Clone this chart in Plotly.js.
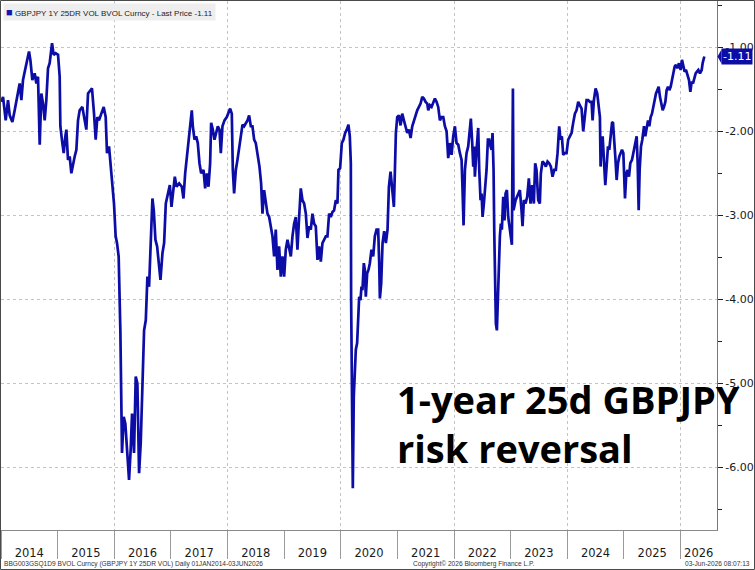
<!DOCTYPE html>
<html>
<head>
<meta charset="utf-8">
<script src="https://cdn.plot.ly/plotly-3.0.1.min.js"></script>
<style>
  html, body { margin: 0; padding: 0; background: #fff; }
  #chart { width: 755px; height: 570px; }
</style>
</head>
<body>
<div id="chart"></div>
<script>
// ---- Data ----
// Time as decimal year, value = GBPJPY 1Y 25-delta risk reversal (vol points)
const t2014_2016 = [2014.006,2014.036,2014.083,2014.124,2014.154,2014.201,2014.242,2014.301,2014.330,2014.360,
2014.389,2014.419,2014.460,2014.495,2014.519,2014.554,2014.595,2014.625,2014.654,2014.684,
2014.713,2014.743,2014.772,2014.801,2014.831,2014.860,2014.902,2014.931,2014.966,2015.008,
2015.037,2015.049,2015.084,2015.108,2015.137,2015.155,2015.184,2015.214,2015.243,2015.273,
2015.302,2015.332,2015.361,2015.390,2015.438,2015.479,2015.508,2015.538,2015.567,2015.608,
2015.644,2015.673,2015.703,2015.732,2015.773,2015.815,2015.850,2015.873,2015.909,2015.938,
2015.968,2015.997,2016.026,2016.050,2016.079,2016.109,2016.138,2016.168,2016.197,2016.227,
2016.262,2016.291,2016.315,2016.350,2016.380,2016.409,2016.439,2016.468,2016.498,2016.527,
2016.557,2016.586,2016.615,2016.639,2016.674,2016.698,2016.727,2016.757,2016.786,2016.816,
2016.851,2016.880,2016.910,2016.951,2016.981,2017.010,2017.040,2017.069,2017.099];
const rr2014_2016 = [-1.65,-1.59,-1.87,-1.63,-1.81,-1.89,-1.75,-1.53,-1.43,-1.63,
-1.39,-1.29,-1.15,-1.05,-1.15,-1.39,-1.31,-1.43,-1.35,-2.16,
-1.55,-1.67,-1.87,-1.63,-1.25,-1.19,-0.95,-1.09,-1.07,-1.09,
-1.35,-1.94,-2.14,-2.26,-2.06,-1.98,-2.34,-2.30,-2.50,-2.38,
-2.30,-2.22,-1.87,-1.75,-1.71,-1.87,-1.98,-1.55,-1.53,-1.49,
-1.79,-2.10,-1.83,-1.87,-1.79,-1.71,-1.83,-2.26,-2.18,-2.42,
-2.66,-2.86,-3.25,-3.33,-3.49,-4.37,-5.83,-5.40,-5.48,-5.79,
-6.15,-5.79,-5.36,-5.83,-4.92,-5.00,-6.07,-5.71,-4.84,-4.37,
-4.25,-3.73,-3.85,-3.37,-2.80,-2.94,-3.29,-3.37,-3.57,-3.77,
-3.45,-3.33,-2.86,-2.74,-2.64,-2.90,-2.70,-2.54,-2.66];

const t2017_2019 = [2017.146,2017.193,2017.222,2017.252,2017.281,2017.311,2017.340,2017.369,2017.387,2017.417,
2017.446,2017.475,2017.505,2017.534,2017.576,2017.605,2017.634,2017.664,2017.693,2017.711,
2017.740,2017.770,2017.799,2017.829,2017.858,2017.882,2017.911,2017.947,2017.988,2018.017,
2018.047,2018.076,2018.094,2018.117,2018.147,2018.176,2018.206,2018.235,2018.265,2018.294,
2018.324,2018.353,2018.382,2018.412,2018.441,2018.471,2018.500,2018.536,2018.565,2018.594,
2018.618,2018.647,2018.677,2018.706,2018.736,2018.765,2018.795,2018.824,2018.853,2018.883,
2018.912,2018.942,2018.971,2019.001,2019.030,2019.060,2019.089,2019.119,2019.148,2019.177,
2019.207,2019.236,2019.266,2019.295,2019.325,2019.354,2019.384,2019.413,2019.443,2019.472,
2019.501,2019.531,2019.560,2019.590,2019.619,2019.649,2019.678,2019.708,2019.737,2019.766,
2019.796,2019.825,2019.855,2019.884,2019.914,2019.943,2019.961,2019.990,2020.020,2020.049,
2020.079,2020.108,2020.137,2020.161,2020.179];
const rr2017_2019 = [-2.62,-2.66,-2.80,-2.50,-2.30,-2.10,-1.98,-1.75,-1.94,-2.10,
-2.06,-2.14,-2.38,-2.50,-2.46,-2.68,-2.50,-2.66,-2.38,-1.90,
-1.98,-2.10,-2.02,-1.94,-1.98,-2.26,-1.94,-1.87,-1.83,-1.77,
-1.73,-1.79,-2.46,-2.74,-2.46,-2.34,-2.18,-2.06,-1.92,-1.94,
-1.90,-1.87,-1.81,-1.94,-1.94,-2.10,-2.14,-2.30,-2.42,-2.62,
-2.98,-2.70,-2.86,-2.98,-3.02,-3.13,-3.25,-3.49,-3.17,-3.65,
-3.37,-3.73,-3.49,-3.73,-3.41,-3.29,-3.41,-3.49,-3.25,-3.10,
-3.02,-3.41,-3.02,-2.68,-2.82,-2.86,-2.98,-3.27,-3.13,-3.17,
-2.98,-3.10,-3.13,-3.53,-3.37,-3.55,-3.33,-3.29,-3.25,-3.25,
-2.98,-3.02,-2.96,-2.94,-2.82,-2.86,-2.46,-2.44,-2.14,-2.10,
-2.02,-1.98,-1.92,-2.06,-2.38];

const t2020_2022 = [2020.184,2020.202,2020.214,2020.231,2020.249,2020.267,2020.290,2020.308,2020.326,2020.349,
2020.367,2020.384,2020.408,2020.426,2020.443,2020.467,2020.490,2020.514,2020.543,2020.573,
2020.602,2020.632,2020.661,2020.679,2020.691,2020.714,2020.738,2020.767,2020.797,2020.826,
2020.850,2020.879,2020.909,2020.938,2020.956,2020.973,2020.997,2021.026,2021.056,2021.085,
2021.115,2021.144,2021.174,2021.203,2021.233,2021.262,2021.291,2021.321,2021.350,2021.380,
2021.409,2021.439,2021.468,2021.498,2021.527,2021.545,2021.574,2021.604,2021.633,2021.662,
2021.692,2021.721,2021.751,2021.780,2021.810,2021.839,2021.869,2021.886,2021.898,2021.927,
2021.957,2021.986,2022.016,2022.045,2022.075,2022.104,2022.134,2022.151,2022.169,2022.193,
2022.222,2022.251,2022.281,2022.298,2022.322,2022.340,2022.357,2022.369,2022.399,2022.428,
2022.446,2022.469,2022.487,2022.505,2022.528,2022.552,2022.575,2022.599,2022.622,2022.646,
2022.664,2022.681,2022.699,2022.711,2022.728,2022.740,2022.758,2022.775,2022.793,2022.811,
2022.828,2022.846,2022.870,2022.893,2022.911,2022.935,2022.958,2022.982,2023.005,2023.023,
2023.041,2023.052,2023.088,2023.117,2023.164];
const rr2020_2022 = [-3.97,-5.36,-6.25,-5.16,-4.84,-4.60,-4.52,-4.17,-3.97,-4.01,
-3.85,-3.89,-3.57,-3.65,-3.97,-3.69,-3.65,-3.57,-3.41,-3.49,
-3.25,-3.17,-3.17,-3.57,-3.99,-3.81,-3.33,-3.19,-3.33,-3.17,
-2.66,-2.48,-2.74,-2.90,-2.46,-2.02,-1.83,-1.81,-1.93,-1.79,
-1.87,-1.94,-2.02,-1.98,-2.08,-1.94,-1.87,-1.81,-1.75,-1.71,
-1.67,-1.59,-1.61,-1.65,-1.67,-1.75,-1.69,-1.71,-1.65,-1.61,
-1.65,-1.71,-1.87,-1.83,-1.83,-1.94,-2.00,-2.14,-2.32,-2.14,
-2.28,-2.06,-1.94,-2.14,-2.16,-2.26,-2.34,-2.70,-3.12,-2.46,
-2.26,-2.18,-1.94,-1.85,-2.14,-2.42,-2.18,-2.54,-2.22,-1.96,
-2.46,-2.82,-2.74,-3.02,-2.86,-2.70,-2.46,-2.10,-2.10,-2.18,
-2.22,-2.02,-2.46,-3.17,-4.05,-4.29,-4.37,-3.97,-3.57,-3.25,
-3.10,-3.17,-2.78,-3.06,-2.74,-2.70,-3.02,-3.17,-3.25,-3.35,
-1.49,-2.94,-2.82,-2.78,-2.70];

const t2023_2026 = [2023.193,2023.211,2023.235,2023.264,2023.294,2023.323,2023.352,2023.382,2023.411,2023.435,
2023.458,2023.488,2023.517,2023.535,2023.564,2023.594,2023.623,2023.653,2023.682,2023.712,
2023.741,2023.771,2023.800,2023.830,2023.859,2023.882,2023.906,2023.930,2023.959,2023.989,
2024.018,2024.047,2024.077,2024.106,2024.136,2024.165,2024.195,2024.224,2024.254,2024.283,
2024.312,2024.342,2024.371,2024.401,2024.430,2024.448,2024.471,2024.501,2024.530,2024.554,
2024.577,2024.589,2024.607,2024.625,2024.648,2024.672,2024.695,2024.719,2024.742,2024.766,
2024.790,2024.807,2024.825,2024.848,2024.872,2024.896,2024.919,2024.943,2024.966,2024.990,
2025.019,2025.043,2025.066,2025.090,2025.113,2025.143,2025.166,2025.196,2025.225,2025.243,
2025.261,2025.278,2025.302,2025.325,2025.355,2025.378,2025.402,2025.426,2025.449,2025.473,
2025.496,2025.520,2025.543,2025.567,2025.590,2025.614,2025.637,2025.661,2025.685,2025.708,
2025.732,2025.755,2025.779,2025.802,2025.826,2025.850,2025.873,2025.897,2025.920,2025.944,
2025.973,2026.003,2026.026,2026.050,2026.073,2026.097,2026.126,2026.150,2026.174,2026.197,
2026.221,2026.244,2026.268,2026.291,2026.315,2026.344,2026.374,2026.391,2026.421];
const rr2023_2026 = [-2.94,-3.13,-2.82,-2.86,-2.78,-2.56,-2.86,-2.64,-2.86,-2.38,
-2.46,-2.82,-2.86,-2.50,-2.36,-2.38,-2.42,-2.36,-2.38,-2.42,
-2.54,-2.46,-2.46,-2.26,-1.94,-2.10,-2.06,-2.28,-2.26,-2.26,
-2.10,-2.06,-2.02,-1.90,-1.79,-1.75,-1.65,-1.69,-1.73,-2.00,
-1.79,-1.63,-1.63,-1.65,-1.65,-1.87,-1.63,-1.49,-1.55,-1.71,
-1.83,-2.42,-2.10,-2.06,-2.30,-2.64,-2.42,-2.18,-2.22,-2.06,
-1.90,-1.89,-2.14,-2.30,-2.58,-2.38,-2.30,-2.26,-2.22,-2.26,
-2.80,-2.50,-2.46,-2.54,-2.38,-2.34,-2.26,-2.14,-2.06,-2.38,
-2.94,-2.46,-2.18,-2.10,-1.94,-2.06,-1.98,-1.87,-1.94,-1.83,
-1.79,-1.71,-1.59,-1.55,-1.51,-1.47,-1.59,-1.67,-1.75,-1.71,
-1.65,-1.51,-1.47,-1.51,-1.47,-1.39,-1.31,-1.23,-1.21,-1.25,
-1.19,-1.27,-1.15,-1.23,-1.29,-1.27,-1.33,-1.39,-1.53,-1.41,
-1.43,-1.35,-1.31,-1.29,-1.27,-1.31,-1.27,-1.19,-1.11];

const yearLabels = ['2014','2015','2016','2017','2018','2019','2020','2021','2022','2023','2024','2025','2026'];
const yTickVals = [-1, -2, -3, -4, -5, -6];
const yTickText = ['-1.00', '-2.00', '-3.00', '-4.00', '-5.00', '-6.00'];
const seriesName = 'GBPJPY 1Y 25DR VOL BVOL Curncy - Last Price';
const titleLines = ['1-year 25d GBPJPY', 'risk reversal'];
const footerLeft = 'BBG003GSQ1D9 BVOL Curncy (GBPJPY 1Y 25DR VOL) Daily 01JAN2014-03JUN2026';
const footerMid = 'Copyright\u00A9 2026 Bloomberg Finance L.P.';
const footerRight = '03-Jun-2026 08:07:13';

// ---- Build ----
function decToDate(t) {
  const y = Math.floor(t);
  const a = Date.UTC(y, 0, 1), b = Date.UTC(y + 1, 0, 1);
  return new Date(a + (t - y) * (b - a)).toISOString().slice(0, 16).replace('T', ' ');
}
const tAll = [].concat(t2014_2016, t2017_2019, t2020_2022, t2023_2026);
const rrAll = [].concat(rr2014_2016, rr2017_2019, rr2020_2022, rr2023_2026);
const dates = tAll.map(decToDate);
const lastVal = rrAll[rrAll.length - 1];
const lastTxt = lastVal.toFixed(2);

const xStart = 2014.0, xEnd = 2026.645;
const xRange = [decToDate(xStart), decToDate(xEnd)];
// year label positions: middle of the visible part of each year
const yearPos = yearLabels.map(s => {
  const y0 = Math.max(+s, xStart), y1 = Math.min(+s + 1, xEnd);
  return decToDate((y0 + y1) / 2);
});

const LINE = '#0c0ca6';
const tickFont = { family: 'DejaVu Sans, Verdana, sans-serif', size: 11, color: '#1a1a1a' };

const traces = [
  { x: dates, y: rrAll, type: 'scatter', mode: 'lines', xaxis: 'x', yaxis: 'y',
    line: { color: LINE, width: 2.7 }, hoverinfo: 'skip', showlegend: false },
  { x: dates, y: rrAll, type: 'scatter', mode: 'lines', xaxis: 'x2', yaxis: 'y',
    line: { width: 0 }, opacity: 0, hoverinfo: 'skip', showlegend: false },
  { x: dates, y: rrAll, type: 'scatter', mode: 'lines', xaxis: 'x3', yaxis: 'y',
    line: { width: 0 }, opacity: 0, hoverinfo: 'skip', showlegend: false }
];

// plot area: px 1..717, py 1..530
const PW = 716, PH = 529, PB = 530, PL = 1;
const px = v => (v - PL) / PW;
const py = v => (PB - v) / PH;

const layout = {
  width: 755, height: 570,
  margin: { l: 1, r: 38, t: 1, b: 40, pad: 0 },
  paper_bgcolor: '#ffffff', plot_bgcolor: '#ffffff',
  showlegend: false,
  xaxis: {
    type: 'date', range: xRange, fixedrange: true,
    tickmode: 'array', tickvals: yearPos, ticktext: yearLabels,
    ticks: 'outside', ticklen: 12, tickcolor: 'rgba(0,0,0,0)',
    showgrid: false, zeroline: false,
    showline: true, linecolor: '#8a8a8a', linewidth: 1,
    tickfont: { family: 'DejaVu Sans, Verdana, sans-serif', size: 11.5, color: '#1a1a1a' }
  },
  xaxis2: {
    type: 'date', range: xRange, overlaying: 'x', anchor: 'y', side: 'bottom', fixedrange: true,
    tickmode: 'linear', tick0: '2014-01-01', dtick: 'M12',
    ticks: 'outside', ticklen: 28, tickcolor: '#9a9a9a', tickwidth: 1,
    showticklabels: false, showgrid: false, zeroline: false, showline: false
  },
  xaxis3: {
    type: 'date', range: xRange, overlaying: 'x', anchor: 'y', side: 'bottom', fixedrange: true,
    tickmode: 'linear', tick0: '2014-01-01', dtick: 'M24',
    ticks: '', showticklabels: false, zeroline: false, showline: false,
    showgrid: true, gridcolor: '#c4c4c4', gridwidth: 1, griddash: 'dot'
  },
  yaxis: {
    side: 'right', range: [-6.746, -0.449], fixedrange: true,
    tickmode: 'array', tickvals: yTickVals, ticktext: yTickText,
    ticks: 'outside', ticklen: 5, tickwidth: 1, tickcolor: '#1010a0',
    minor: { tickmode: 'linear', tick0: -1, dtick: 0.5, ticks: 'outside', ticklen: 4, tickcolor: '#1010a0', showgrid: false },
    showline: true, linecolor: '#6b6bd6', linewidth: 1,
    showgrid: true, gridcolor: '#c4c4c4', gridwidth: 1, griddash: 'dot',
    zeroline: false, tickfont: tickFont
  },
  shapes: [
    // outer frame
    { type: 'rect', xref: 'paper', yref: 'paper',
      x0: px(0.5), x1: px(754.5), y0: py(569.5), y1: py(0.5),
      line: { color: '#4a4a4a', width: 1 }, fillcolor: 'rgba(0,0,0,0)', layer: 'above' },
    // pointer of the last-price tag
    { type: 'path', xref: 'paper', yref: 'y', layer: 'above',
      path: 'M ' + px(717.5) + ' ' + lastVal + ' L ' + px(721.5) + ' ' + (lastVal + 0.085) +
            ' L ' + px(721.5) + ' ' + (lastVal - 0.085) + ' Z',
      fillcolor: LINE, line: { width: 0 } }
  ],
  annotations: [
    { xref: 'paper', yref: 'paper', x: px(3), y: py(3), xanchor: 'left', yanchor: 'top',
      showarrow: false, bgcolor: '#eeeeee', borderpad: 2,
      text: '<span style="color:#1414b4;font-size:11px">\u25A0</span> ' + seriesName + ' ' + lastTxt,
      font: { family: 'Liberation Sans, Arial, sans-serif', size: 8, color: '#222' } },
    { xref: 'paper', yref: 'y', x: px(721), y: lastVal, xanchor: 'left', yanchor: 'middle',
      showarrow: false, bgcolor: LINE, borderpad: 1,
      text: lastTxt, font: { family: 'DejaVu Sans, Verdana, sans-serif', size: 11, color: '#ffffff' } },
    { xref: 'paper', yref: 'paper', x: px(395), y: py(371), xanchor: 'left', yanchor: 'top',
      showarrow: false, align: 'left',
      text: titleLines.join('<br>'),
      font: { family: 'Open Sans, Noto Sans, sans-serif', size: 38, color: '#000000', weight: 700 } },
    { xref: 'paper', yref: 'paper', x: px(2), y: py(563.5), xanchor: 'left', yanchor: 'middle',
      showarrow: false, text: footerLeft,
      font: { family: 'Liberation Sans, Arial, sans-serif', size: 6.6, color: '#333' } },
    { xref: 'paper', yref: 'paper', x: px(473), y: py(563.5), xanchor: 'center', yanchor: 'middle',
      showarrow: false, text: footerMid,
      font: { family: 'Liberation Sans, Arial, sans-serif', size: 6.6, color: '#333' } },
    { xref: 'paper', yref: 'paper', x: px(752), y: py(563.5), xanchor: 'right', yanchor: 'middle',
      showarrow: false, text: footerRight,
      font: { family: 'Liberation Sans, Arial, sans-serif', size: 6.6, color: '#333' } }
  ]
};

Plotly.newPlot('chart', traces, layout, { staticPlot: true, displayModeBar: false });
</script>
</body>
</html>
